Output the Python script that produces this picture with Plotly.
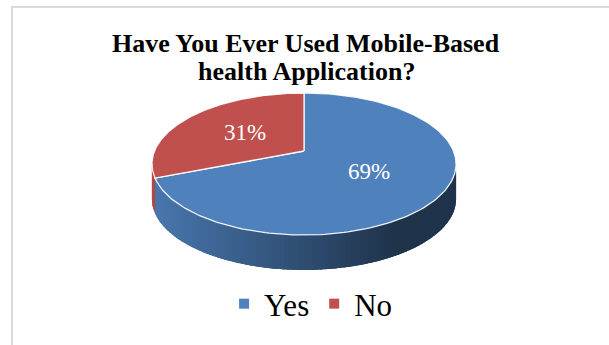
import numpy as np
import plotly.graph_objects as go

# Survey answers
categories = ["Yes", "No"]
values = [69, 31]
colors = ["#4F81BD", "#C0504D"]
title_lines = ["Have You Ever Used Mobile-Based", "health Application?"]

W, H = 609, 345

# Tilted-disc geometry (pixel space, y grows downward)
CX, CY = 304.0, 151.0      # apex of the slices
SX, SY = 149.5, 68.6       # horizontal / vertical scale of the disc
P = 0.183                  # perspective strength
DEPTH = 35.0               # thickness of the disc


def project(r, alpha_deg, drop=0.0):
    """Project a point of the disc (radius r, clockwise angle from 12 o'clock)."""
    a = np.radians(alpha_deg)
    u = r * np.sin(a)
    v = -r * np.cos(a)
    w = 1.0 - P * v
    return CX + SX * u / w, CY + SY * v / w + drop


def hex_rgb(h):
    h = h.lstrip("#")
    return tuple(int(h[i:i + 2], 16) for i in (0, 2, 4))


def shade(hexcol, f):
    r, g, b = hex_rgb(hexcol)
    return f"rgb({int(r * f)},{int(g * f)},{int(b * f)})"


total = float(sum(values))
bounds = np.cumsum([0.0] + [v / total * 360.0 for v in values])

fig = go.Figure()

# ---- side wall (only the front part is visible) ----
a_lo = np.degrees(np.arccos(-P))
a_hi = 360.0 - a_lo
xl, _ = project(1, a_hi)
xr, _ = project(1, a_lo)


def wall_shade(col, a):
    xm, _ = project(1, a)
    t = (xm - xl) / (xr - xl)
    return shade(col, 0.93 - 0.53 * min(t / 0.8, 1.0))


step = 1.5
for i, col in enumerate(colors):
    s0, s1 = max(bounds[i], a_lo), min(bounds[i + 1], a_hi)
    if s1 <= s0:
        continue
    # base wall piece for this slice, so no gaps show between bands
    arc = np.linspace(s0, s1, 120)
    top = [project(1, a) for a in arc]
    bot = [project(1, a, DEPTH) for a in arc[::-1]]
    pts = top + bot + [top[0]]
    base = wall_shade(col, 0.5 * (s0 + s1))
    fig.add_trace(go.Scatter(x=[p[0] for p in pts], y=[p[1] for p in pts],
                             mode="lines", fill="toself", fillcolor=base,
                             line=dict(width=0), hoverinfo="skip", showlegend=False))
    # shaded bands, each slightly overlapping the next one
    edges = np.arange(s0, s1, step).tolist() + [s1]
    for a0, a1 in zip(edges[:-1], edges[1:]):
        a1x = min(a1 + 0.6 * step, s1)
        c = wall_shade(col, 0.5 * (a0 + a1))
        sub = np.linspace(a0, a1x, 4)
        top = [project(1, a) for a in sub]
        bot = [project(1, a, DEPTH) for a in sub[::-1]]
        pts = top + bot + [top[0]]
        fig.add_trace(go.Scatter(x=[p[0] for p in pts], y=[p[1] for p in pts],
                                 mode="lines", fill="toself", fillcolor=c,
                                 line=dict(width=0), hoverinfo="skip", showlegend=False))

# ---- top face slices ----
for i, col in enumerate(colors):
    arc = np.linspace(bounds[i], bounds[i + 1], 200)
    pts = [project(0, 0)] + [project(1, a) for a in arc] + [project(0, 0)]
    fig.add_trace(go.Scatter(x=[p[0] for p in pts], y=[p[1] for p in pts],
                             mode="lines", fill="toself", fillcolor=col,
                             line=dict(color="rgba(255,255,255,0.9)", width=1.3),
                             hoverinfo="skip", showlegend=False))

# ---- percentage labels ----
for i, v in enumerate(values):
    mid = 0.5 * (bounds[i] + bounds[i + 1])
    lx, ly = project(0.5, mid)
    fig.add_annotation(x=lx, y=ly, text=f"{v}%", showarrow=False,
                       font=dict(family="Liberation Serif", size=23, color="white"))

# ---- legend entries ----
for name, col in zip(categories, colors):
    fig.add_trace(go.Scatter(x=[None], y=[None], mode="markers", name=name,
                             marker=dict(symbol="square", size=10, color=col)))

# ---- title ----
for k, line in enumerate(title_lines):
    fig.add_annotation(x=306, y=43 + 28 * k, text=f"<b>{line}</b>", showarrow=False,
                       font=dict(family="Liberation Serif", size=26, color="black"))

# chart area frame
fig.add_shape(type="rect", x0=12, y0=7, x1=W + 10, y1=H + 10,
              line=dict(color="#D9D9D9", width=2), layer="below")

fig.update_layout(
    width=W, height=H,
    margin=dict(l=0, r=0, t=0, b=0),
    paper_bgcolor="white", plot_bgcolor="white",
    xaxis=dict(range=[0, W], visible=False, fixedrange=True),
    yaxis=dict(range=[H, 0], visible=False, fixedrange=True),
    legend=dict(orientation="h", x=0.51, xanchor="center", y=1 - 304 / H, yanchor="middle",
                font=dict(family="Liberation Serif", size=31, color="black"),
                itemwidth=30, bgcolor="rgba(0,0,0,0)"),
    showlegend=True,
)

fig.write_html("out.html")
